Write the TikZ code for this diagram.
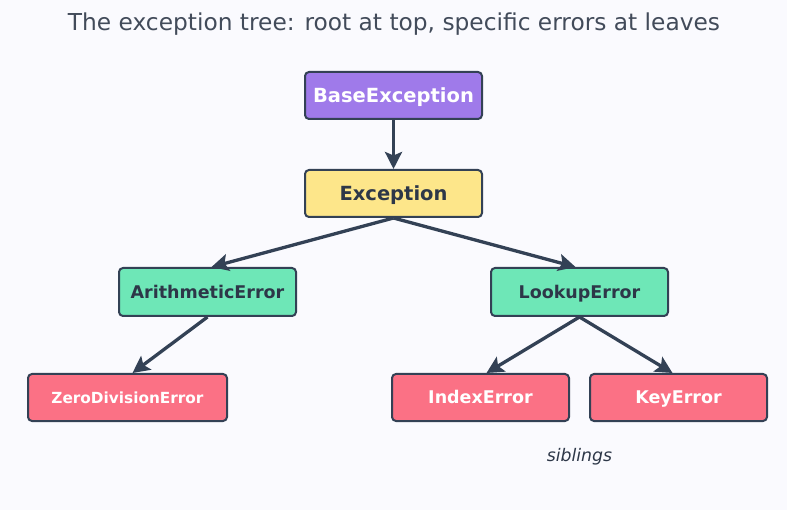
\documentclass[tikz,border=0pt]{standalone}
\usepackage{fontspec}
\setmainfont{DejaVu Sans}
\usetikzlibrary{arrows.meta}
\definecolor{bgc}{HTML}{FAFAFE}
\definecolor{edge}{HTML}{334155}
\definecolor{txt}{HTML}{2D3748}
\definecolor{purp}{HTML}{9F7AEA}
\definecolor{yel}{HTML}{FDE68A}
\definecolor{grn}{HTML}{6EE7B7}
\definecolor{redc}{HTML}{FB7185}
\tikzset{
  box/.style={draw=edge, line width=2pt, rounded corners=4pt, minimum height=47pt, inner sep=0pt, text depth=0pt},
  big/.style={font=\fontsize{19.5}{23}\selectfont\bfseries, text height=14.2pt},
  mid/.style={font=\fontsize{17.5}{21}\selectfont\bfseries, text height=12.8pt},
  sml/.style={font=\fontsize{15.3}{19}\selectfont\bfseries, text height=11.2pt},
  conn/.style={draw=edge, line width=3.3pt, -{Stealth[length=17pt,width=17pt,inset=3.5pt]}},
}
\begin{document}
\begin{tikzpicture}[x=1pt,y=-1pt]
\fill[bgc] (0,0) rectangle (787,510);
\useasboundingbox (0,0) rectangle (787,510);
\node[text=txt!90!white, font=\fontsize{23.3}{28}\selectfont] (title) at (394,24) {The exception tree: root at top, specific errors at leaves};
\node[box, big, fill=purp, text=white, minimum width=177pt] (base) at (393.5,95.5) {BaseException};
\node[box, big, fill=yel, text=txt, minimum width=177pt] (exc) at (393.5,193.5) {Exception};
\node[box, mid, fill=grn, text=txt, minimum width=177pt, minimum height=48pt] (arith) at (207.5,292) {ArithmeticError};
\node[box, mid, fill=grn, text=txt, minimum width=177pt, minimum height=48pt] (lookup) at (579.5,292) {LookupError};
\node[box, sml, fill=redc, text=white, minimum width=199pt] (zero) at (127.5,397.5) {ZeroDivisionError};
\node[box, mid, fill=redc, text=white, minimum width=177pt] (index) at (480.5,397.5) {IndexError};
\node[box, mid, fill=redc, text=white, minimum width=177pt] (key) at (678.5,397.5) {KeyError};
\node[text=txt, font=\fontsize{17.3}{21}\selectfont\itshape] (sib) at (579.5,457) {siblings};
\draw[conn] (base.south) -- (exc.north);
\draw[conn] (exc.south) -- ([xshift=4pt]arith.north);
\draw[conn] (exc.south) -- ([xshift=-4pt]lookup.north);
\draw[conn] (arith.south) -- ([xshift=5pt]zero.north);
\draw[conn] (lookup.south) -- ([xshift=6pt]index.north);
\draw[conn] (lookup.south) -- ([xshift=-6pt]key.north);
\end{tikzpicture}
\end{document}
